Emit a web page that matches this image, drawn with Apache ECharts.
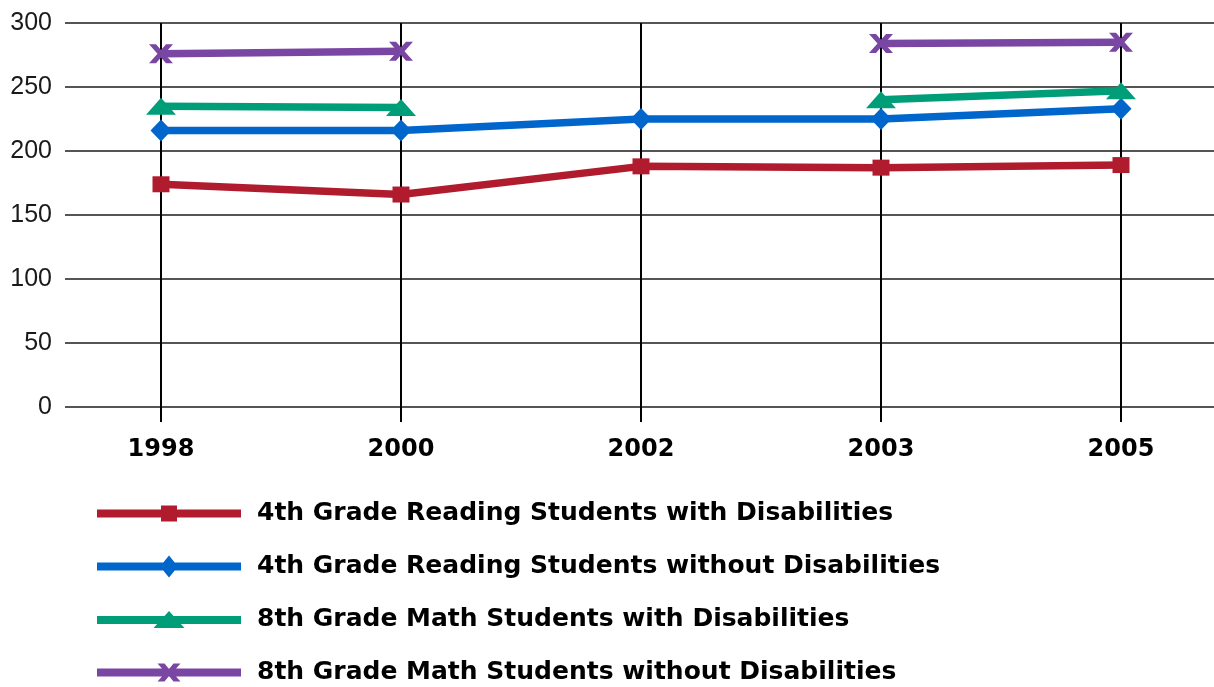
<!DOCTYPE html>
<html>
<head>
<meta charset="utf-8">
<title>NAEP scores, students with and without disabilities</title>
<script src="https://cdn.jsdelivr.net/npm/echarts@6/dist/echarts.min.js"></script>
<style>
  html, body { margin: 0; padding: 0; background: #fff; }
  #chart { width: 1214px; height: 687px; }
</style>
</head>
<body>
<div id="chart"></div>
<script>
// Assessment years
const years = ['1998', '2000', '2002', '2003', '2005'];

// Average scale scores (null = not assessed that year)
const reading4WithDis = [174, 166, 188, 187, 189];
const reading4WithoutDis = [216, 216, 225, 225, 233];
const math8WithDis = [235, 234, null, 240, 247];
const math8WithoutDis = [276, 278, null, 284, 285];

// Value axis ticks
const yMin = 0, yMax = 300, yStep = 50;

const seriesNames = [
  '4th Grade Reading Students with Disabilities',
  '4th Grade Reading Students without Disabilities',
  '8th Grade Math Students with Disabilities',
  '8th Grade Math Students without Disabilities'
];
const colors = ['#B01C2E', '#0066CC', '#009E78', '#7A46A3'];

// Bow-tie cross marker
const crossPath = 'path://M0 0 L7 0 L12 6 L17 0 L24 0 L15.5 10 L24 20 L17 20 L12 14 L7 20 L0 20 L8.5 10 Z';

// Legend icons: a thick stroke with the series marker in the middle
const legendBar = 'M0 7 L144 7 L144 15 L0 15 Z ';
const legendIcons = [
  'path://' + legendBar + 'M64 3 L80 3 L80 19 L64 19 Z',
  'path://' + legendBar + 'M72 0 L81 11 L72 22 L63 11 Z',
  'path://' + legendBar + 'M72 2 L87.5 19 L56.5 19 Z',
  'path://' + legendBar + 'M60.5 2 L67.5 2 L72 7.5 L76.5 2 L83.5 2 L75.5 11 L83.5 20 L76.5 20 L72 14.5 L67.5 20 L60.5 20 L68.5 11 Z'
];

const chart = echarts.init(document.getElementById('chart'), null, { renderer: 'canvas' });

function lineSeries(idx, data, symbol, size) {
  return {
    name: seriesNames[idx],
    type: 'line',
    xAxisIndex: 1,
    yAxisIndex: 1,
    data: data,
    connectNulls: false,
    symbol: symbol,
    symbolSize: size,
    showSymbol: true,
    color: colors[idx],
    lineStyle: { width: 7.5, color: colors[idx] },
    itemStyle: { color: colors[idx], borderWidth: 0 },
    emphasis: { disabled: true },
    z: 3 + idx
  };
}

const option = {
  animation: false,
  backgroundColor: '#ffffff',
  grid: [
    // full-width grid carrying the horizontal rules and score labels
    { left: 65, right: 0, top: 23, bottom: 280, containLabel: false },
    // plotting grid whose edges sit on the first and last year
    { left: 161, right: 93, top: 23, bottom: 280, containLabel: false }
  ],
  xAxis: [
    { type: 'value', gridIndex: 0, show: false, min: 0, max: 1 },
    {
      type: 'category',
      gridIndex: 1,
      data: years,
      boundaryGap: false,
      axisLine: { show: false },
      axisTick: { show: true, length: 15, lineStyle: { color: '#000', width: 2 } },
      splitLine: { show: true, lineStyle: { color: '#000', width: 2 } },
      axisLabel: {
        margin: 31,
        fontFamily: 'DejaVu Sans',
        fontWeight: 'bold',
        fontSize: 24,
        color: '#000'
      }
    }
  ],
  yAxis: [
    {
      type: 'value',
      gridIndex: 0,
      min: yMin,
      max: yMax,
      interval: yStep,
      axisLine: { show: false },
      axisTick: { show: false },
      splitLine: { show: true, lineStyle: { color: '#555', width: 2 } },
      axisLabel: {
        margin: 13,
        fontFamily: 'Liberation Sans',
        fontSize: 25,
        color: '#1a1a1a'
      }
    },
    { type: 'value', gridIndex: 1, min: yMin, max: yMax, interval: yStep, show: false }
  ],
  legend: {
    orient: 'vertical',
    left: 97,
    top: 501,
    height: 220,
    padding: 0,
    itemWidth: 144,
    itemHeight: 22,
    itemGap: 28,
    selectedMode: false,
    symbolKeepAspect: true,
    itemStyle: { borderWidth: 0 },
    textStyle: {
      fontFamily: 'DejaVu Sans',
      fontWeight: 'bold',
      fontSize: 25,
      color: '#000',
      padding: [0, 0, 0, 11]
    },
    data: seriesNames.map((n, i) => ({ name: n, icon: legendIcons[i] }))
  },
  series: [
    lineSeries(0, reading4WithDis, 'rect', [17, 16]),
    lineSeries(1, reading4WithoutDis, 'diamond', [21, 22]),
    lineSeries(2, math8WithDis, 'triangle', [30, 17]),
    lineSeries(3, math8WithoutDis, crossPath, [24, 19])
  ]
};

chart.setOption(option);
</script>
</body>
</html>
